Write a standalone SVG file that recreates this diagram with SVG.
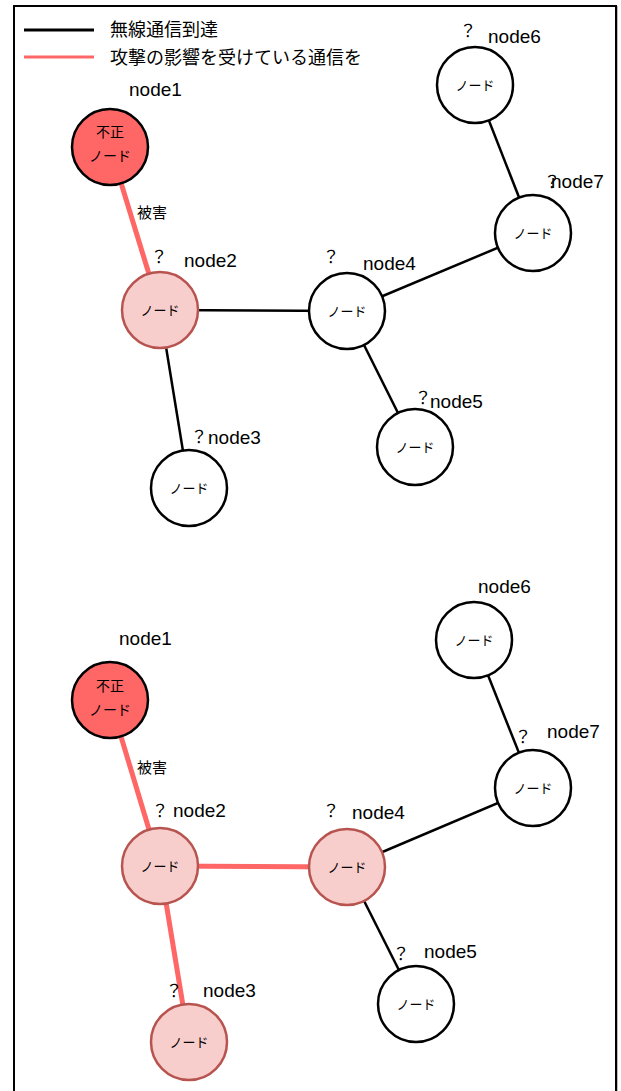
<svg xmlns="http://www.w3.org/2000/svg" width="621" height="1091" viewBox="0 0 621 1091">
<style>
text{font-family:"Liberation Sans","Noto Sans CJK JP",sans-serif;fill:#000}
.lbl{font-size:19px}
.q{font-size:17px;text-anchor:middle;font-family:"Noto Sans CJK JP",sans-serif}
.in{font-size:13px;text-anchor:middle;dominant-baseline:central}
.in1{font-size:14px;text-anchor:middle;dominant-baseline:central}
.lg{font-size:18px;dominant-baseline:central}
.dmg{font-size:15px;dominant-baseline:central}
.n{fill:#fff;stroke:#000;stroke-width:2.5}
.bad{fill:#FF6666;stroke:#000;stroke-width:2.5}
.hit{fill:#F8CECC;stroke:#B85450;stroke-width:2.5}
.e{stroke:#000;stroke-width:2.5;fill:none}
.r{stroke:#FF6666;stroke-width:5;fill:none}
</style>
<rect x="15" y="7" width="602" height="1100" fill="none" stroke="#bbb" stroke-width="2"/>
<rect x="14" y="6" width="602" height="1100" fill="#fff" stroke="#000" stroke-width="2"/>
<g id="legend">
<line x1="24" y1="30" x2="94" y2="30" stroke="#000" stroke-width="3"/>
<line x1="24" y1="57" x2="94" y2="57" stroke="#FF6666" stroke-width="3"/>
<text class="lg" x="110" y="30">無線通信到達</text>
<text class="lg" x="110" y="58">攻撃の影響を受けている通信を</text>
</g>
<g id="connectors">
<line class="r" x1="110" y1="147" x2="160" y2="310"/>
<line class="e" x1="160" y1="310" x2="347" y2="311"/>
<line class="e" x1="160" y1="310" x2="189" y2="488"/>
<line class="e" x1="347" y1="311" x2="533" y2="233"/>
<line class="e" x1="347" y1="311" x2="415" y2="447"/>
<line class="e" x1="475" y1="85" x2="533" y2="233"/>
<line class="r" x1="110" y1="700" x2="160" y2="866"/>
<line class="r" x1="160" y1="866" x2="347" y2="867"/>
<line class="r" x1="160" y1="866" x2="189" y2="1042"/>
<line class="e" x1="347" y1="867" x2="533" y2="788"/>
<line class="e" x1="347" y1="867" x2="416" y2="1004"/>
<line class="e" x1="474" y1="640" x2="533" y2="788"/>
<text class="dmg" x="137" y="212">被害</text>
<text class="dmg" x="137" y="767">被害</text>
</g>
<g id="top-node1"><circle class="bad" cx="110" cy="147" r="38"/><text class="in1" x="110" y="132">不正</text><text class="in1" x="110" y="156">ノード</text><text class="lbl" x="129" y="96">node1</text></g>
<g id="top-node2"><circle class="hit" cx="160" cy="310" r="38"/><text class="in" x="160" y="310">ノード</text><text class="q" x="159" y="263">？</text><text class="lbl" x="184" y="267">node2</text></g>
<g id="top-node3"><circle class="n" cx="189" cy="488" r="38"/><text class="in" x="189" y="488">ノード</text><text class="q" x="199" y="443">？</text><text class="lbl" x="208" y="444">node3</text></g>
<g id="top-node4"><circle class="n" cx="347" cy="311" r="38"/><text class="in" x="347" y="311">ノード</text><text class="q" x="331" y="263">？</text><text class="lbl" x="363" y="270">node4</text></g>
<g id="top-node5"><circle class="n" cx="415" cy="447" r="38"/><text class="in" x="415" y="447">ノード</text><text class="q" x="423" y="404">？</text><text class="lbl" x="430" y="408">node5</text></g>
<g id="top-node6"><circle class="n" cx="475" cy="85" r="38"/><text class="in" x="475" y="85">ノード</text><text class="q" x="468" y="37">？</text><text class="lbl" x="488" y="43">node6</text></g>
<g id="top-node7"><circle class="n" cx="533" cy="233" r="38"/><text class="in" x="533" y="233">ノード</text><text class="q" x="552" y="188">？</text><text class="lbl" x="551" y="188">node7</text></g>
<g id="bottom-node1"><circle class="bad" cx="110" cy="700" r="38"/><text class="in1" x="110" y="686">不正</text><text class="in1" x="110" y="710">ノード</text><text class="lbl" x="119" y="645">node1</text></g>
<g id="bottom-node2"><circle class="hit" cx="160" cy="866" r="38"/><text class="in" x="160" y="866">ノード</text><text class="q" x="160" y="817">？</text><text class="lbl" x="173" y="817">node2</text></g>
<g id="bottom-node3"><circle class="hit" cx="189" cy="1042" r="38"/><text class="in" x="189" y="1042">ノード</text><text class="q" x="174" y="997">？</text><text class="lbl" x="203" y="997">node3</text></g>
<g id="bottom-node4"><circle class="hit" cx="347" cy="867" r="38"/><text class="in" x="347" y="867">ノード</text><text class="q" x="331" y="817">？</text><text class="lbl" x="352" y="819">node4</text></g>
<g id="bottom-node5"><circle class="n" cx="416" cy="1004" r="38"/><text class="in" x="416" y="1004">ノード</text><text class="q" x="401" y="960">？</text><text class="lbl" x="424" y="958">node5</text></g>
<g id="bottom-node6"><circle class="n" cx="474" cy="640" r="38"/><text class="in" x="474" y="640">ノード</text><text class="lbl" x="478" y="593">node6</text></g>
<g id="bottom-node7"><circle class="n" cx="533" cy="788" r="38"/><text class="in" x="533" y="788">ノード</text><text class="q" x="523" y="743">？</text><text class="lbl" x="547" y="738">node7</text></g>
</svg>
